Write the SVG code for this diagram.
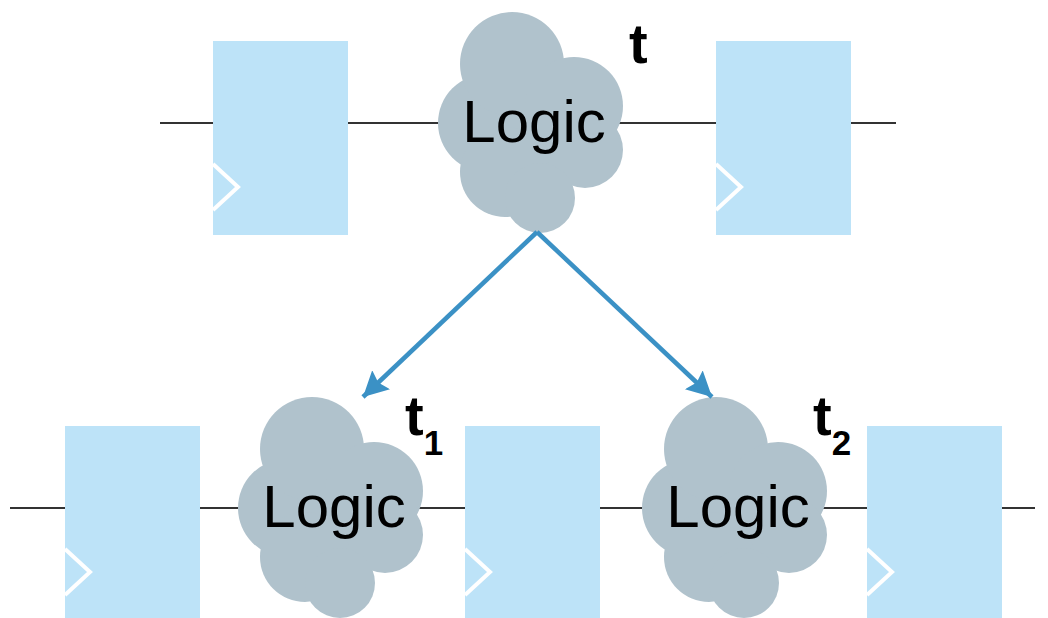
<svg xmlns="http://www.w3.org/2000/svg" xmlns:xlink="http://www.w3.org/1999/xlink" width="1048" height="618" viewBox="0 0 1048 618">
  <style>
    .wire { stroke: #333333; stroke-width: 2; fill: none; }
    .ff { fill: #BDE3F8; }
    .clk { fill: none; stroke: #FFFFFF; stroke-width: 4; }
    .cloud { fill: #B0C2CC; }
    .lbl { font-family: "Liberation Sans", Arial, sans-serif; font-size: 60px; fill: #000000; text-anchor: middle; }
    .t { font-family: "Liberation Sans", Arial, sans-serif; font-weight: bold; font-size: 56px; fill: #000000; }
    .sub { font-size: 35px; }
    .arrow { stroke: #3B91C5; stroke-width: 4.5; fill: none; }
  </style>
  <defs>
    <marker id="head" markerUnits="userSpaceOnUse" markerWidth="28" markerHeight="28" refX="25" refY="13" orient="auto">
      <path d="M0,0 L25,13 L0,26 L4,13 z" fill="#3B91C5"/>
    </marker>
    <!-- flip-flop: box with clock chevron on its left edge -->
    <g id="flop">
      <rect class="ff" x="0" y="0" width="135" height="194"/>
      <polyline class="clk" points="0,123 25,146 0,169"/>
    </g>
    <!-- logic cloud made of overlapping lobes -->
    <g id="cloudShape" class="cloud">
      <circle cx="535" cy="125" r="55"/>
      <circle cx="487" cy="123" r="49"/>
      <circle cx="512" cy="64" r="52"/>
      <circle cx="574" cy="106" r="49"/>
      <circle cx="585" cy="150" r="38"/>
      <circle cx="505" cy="172" r="45"/>
      <circle cx="540" cy="198" r="35"/>
    </g>
  </defs>

  <!-- wires -->
  <g id="wires">
    <line class="wire" x1="160" y1="123" x2="896" y2="123"/>
    <line class="wire" x1="10" y1="508" x2="1035" y2="508"/>
  </g>

  <!-- top row -->
  <g id="ff-top-1"><use xlink:href="#flop" x="213" y="41"/></g>
  <g id="ff-top-2"><use xlink:href="#flop" x="716" y="41"/></g>
  <g id="logic-top">
    <use xlink:href="#cloudShape"/>
    <text class="lbl" x="534" y="142">Logic</text>
    <text class="t" x="629" y="63">t</text>
  </g>

  <!-- bottom row -->
  <g id="ff-bot-1"><use xlink:href="#flop" x="65" y="426"/></g>
  <g id="ff-bot-2"><use xlink:href="#flop" x="465" y="426"/></g>
  <g id="ff-bot-3"><use xlink:href="#flop" x="867" y="426"/></g>
  <g id="logic-t1">
    <use xlink:href="#cloudShape" x="-200" y="385"/>
    <text class="lbl" x="334" y="527">Logic</text>
    <text class="t" x="405" y="435">t<tspan class="sub" dy="20">1</tspan></text>
  </g>
  <g id="logic-t2">
    <use xlink:href="#cloudShape" x="204" y="385"/>
    <text class="lbl" x="738" y="527">Logic</text>
    <text class="t" x="813" y="435">t<tspan class="sub" dy="20">2</tspan></text>
  </g>

  <!-- split arrows -->
  <g id="connectors">
    <line class="arrow" x1="537" y1="232" x2="363" y2="397" marker-end="url(#head)"/>
    <line class="arrow" x1="537" y1="232" x2="712" y2="397" marker-end="url(#head)"/>
  </g>
</svg>
